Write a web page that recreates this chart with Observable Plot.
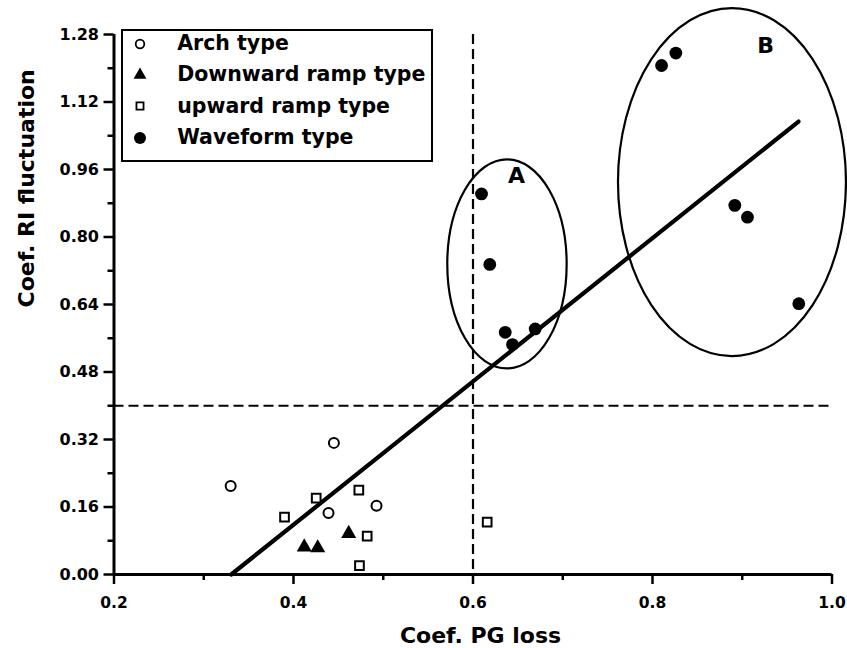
<!DOCTYPE html>
<html><head><meta charset="utf-8">
<script src="https://cdn.jsdelivr.net/npm/d3@7"></script>
<script src="https://cdn.jsdelivr.net/npm/@observablehq/plot@0.6"></script>
<style>
body{margin:0;background:#fff;}
#wrap{position:relative;width:847px;height:648px;font-family:"DejaVu Sans",sans-serif;font-weight:bold;}
#wrap svg g[aria-label="x-axis tick label"]{font-size:15.5px !important;}
#wrap svg g[aria-label="y-axis tick label"]{font-size:16px !important;}
#wrap svg g[aria-label="x-axis tick"], #wrap svg g[aria-label="y-axis tick"]{stroke-width:2.5px !important;}
#legend{position:absolute;left:121px;top:29px;width:312px;height:133px;border:2.5px solid #000;box-sizing:border-box;background:#fff;}
.row{position:absolute;left:0;height:31.3px;width:100%;}
.row svg{position:absolute;left:9.5px;top:8.65px;}
.row span{position:absolute;left:54.2px;top:0;font-size:20.5px;line-height:31.3px;white-space:nowrap;color:#000;}
</style></head><body><div id="wrap"></div>
<script>
// Data
const archX = [0.330, 0.445, 0.439, 0.4925];
const archY = [0.210, 0.312, 0.146, 0.163];
const downX = [0.412, 0.427, 0.4615];
const downY = [0.065, 0.063, 0.097];
const upX = [0.390, 0.4253, 0.4728, 0.4821, 0.4735, 0.6158];
const upY = [0.136, 0.181, 0.200, 0.091, 0.021, 0.124];
const waveX = [0.6095, 0.6187, 0.6359, 0.644, 0.6693, 0.8101, 0.826, 0.8917, 0.9058, 0.963];
const waveY = [0.902, 0.735, 0.574, 0.545, 0.582, 1.2065, 1.236, 0.875, 0.847, 0.642];
const fitX = [0.3306, 0.9627];
const fitY = [0.0, 1.0737];
const thresholdX = [0.6];
const thresholdY = [0.4];
const groupNames = ["A", "B"];
const groupCX = [0.6384, 0.8891];
const groupCY = [0.735, 0.929];
const groupRX = [0.0665, 0.127];
const groupRY = [0.2477, 0.4124];
const groupLabelX = [0.6485, 0.926];
const groupLabelY = [0.945, 1.253];
const xTicks = [0.2, 0.4, 0.6, 0.8, 1.0];
const xMinor = [0.3, 0.5, 0.7, 0.9];
const yTicks = [0.00, 0.16, 0.32, 0.48, 0.64, 0.80, 0.96, 1.12, 1.28];
const yMinor = [0.08, 0.24, 0.40, 0.56, 0.72, 0.88, 1.04, 1.20];
const legendLabels = ["Arch type", "Downward ramp type", "upward ramp type", "Waveform type"];
const xTitle = "Coef. PG loss";
const yTitle = "Coef. RI fluctuation";

const zip = (X, Y) => X.map((x, i) => ({x, y: Y[i]}));
const arch = zip(archX, archY);
const down = zip(downX, downY);
const up = zip(upX, upY);
const wave = zip(waveX, waveY);
const fit = zip(fitX, fitY);
const groups = groupNames.map((n, i) => ({name: n, cx: groupCX[i], cy: groupCY[i], rx: groupRX[i], ry: groupRY[i], lx: groupLabelX[i], ly: groupLabelY[i]}));

function ellipses(data) {
  return (index, scales) => {
    const g = d3.create("svg:g");
    g.selectAll("ellipse").data(data).join("ellipse")
      .attr("cx", d => scales.x(d.cx))
      .attr("cy", d => scales.y(d.cy))
      .attr("rx", d => Math.abs(scales.x(d.cx + d.rx) - scales.x(d.cx)))
      .attr("ry", d => Math.abs(scales.y(d.cy + d.ry) - scales.y(d.cy)))
      .attr("fill", "none").attr("stroke", "black").attr("stroke-width", 2.2);
    return g.node();
  };
}

const plot = Plot.plot({
  width: 847, height: 648,
  marginLeft: 113.5, marginRight: 15.5, marginTop: 34, marginBottom: 74,
  x: {domain: [0.2, 1.0], label: null},
  y: {domain: [0, 1.28], label: null},
  style: {fontFamily: "DejaVu Sans", fontWeight: "bold", color: "black", background: "white", overflow: "visible"},
  marks: [
    ellipses(groups),
    Plot.ruleX(thresholdX, {stroke: "black", strokeWidth: 2.2, strokeDasharray: "10,5"}),
    Plot.ruleY(thresholdY, {stroke: "black", strokeWidth: 2.2, strokeDasharray: "10,5"}),
    Plot.line(fit, {x: "x", y: "y", stroke: "black", strokeWidth: 4.2}),
    Plot.dot(arch, {x: "x", y: "y", r: 5, stroke: "black", strokeWidth: 2, fill: "white"}),
    Plot.dot(down, {x: "x", y: "y", r: 5.6, symbol: "triangle", fill: "black", stroke: "none"}),
    Plot.dot(up, {x: "x", y: "y", r: 4.9, symbol: "square", stroke: "black", strokeWidth: 2, fill: "white"}),
    Plot.dot(wave, {x: "x", y: "y", r: 6.4, fill: "black", stroke: "none"}),
    Plot.text(groups, {x: "lx", y: "ly", text: "name", fontSize: 22, fontWeight: "bold", fill: "black"}),
    Plot.axisX(xTicks, {tickSize: 10, tickPadding: 12, strokeWidth: 2.5, stroke: "black", fontSize: 15.5, tickFormat: d => d.toFixed(1), label: null}),
    Plot.axisX(xMinor, {tickSize: 6, strokeWidth: 2.5, stroke: "black", tickFormat: () => "", label: null}),
    Plot.axisY(yTicks, {tickSize: 10, tickPadding: 5, strokeWidth: 2.5, stroke: "black", fontSize: 16, tickFormat: d => d.toFixed(2), label: null}),
    Plot.axisY(yMinor, {tickSize: 6, strokeWidth: 2.5, stroke: "black", tickFormat: () => "", label: null}),
    Plot.ruleY([0], {stroke: "black", strokeWidth: 3}),
    Plot.ruleX([0.2], {stroke: "black", strokeWidth: 3}),
    Plot.text([xTitle], {frameAnchor: "bottom", lineAnchor: "bottom", dx: 7.5, dy: 68.7, fontSize: 22, fontWeight: "bold", fill: "black"}),
    Plot.text([yTitle], {frameAnchor: "left", lineAnchor: "bottom", rotate: -90, dx: -80.5, dy: 3, fontSize: 22, fontWeight: "bold", fill: "black"})
  ]
});

const wrap = document.getElementById("wrap");
wrap.appendChild(plot);

// Legend (HTML overlay)
const legend = document.createElement("div");
legend.id = "legend";
const symDefs = [
  {type: d3.symbolCircle, r: 4.3, fill: "white", stroke: "black", sw: 1.8},
  {type: d3.symbolTriangle, r: 4.8, fill: "black", stroke: "none", sw: 0},
  {type: d3.symbolSquare, r: 4.0, fill: "white", stroke: "black", sw: 1.8},
  {type: d3.symbolCircle, r: 6, fill: "black", stroke: "none", sw: 0}
];
legendLabels.forEach((lab, i) => {
  const row = document.createElement("div");
  row.className = "row";
  row.style.top = (-2.85 + i * 31.3) + "px";
  const s = symDefs[i];
  const svg = d3.create("svg").attr("width", 14).attr("height", 14).attr("viewBox", "-7 -7 14 14").style("overflow", "visible");
  svg.append("path").attr("d", d3.symbol(s.type, Math.PI * s.r * s.r)()).attr("fill", s.fill).attr("stroke", s.stroke).attr("stroke-width", s.sw);
  row.appendChild(svg.node());
  const span = document.createElement("span");
  span.textContent = lab;
  row.appendChild(span);
  legend.appendChild(row);
});
wrap.appendChild(legend);
</script></body></html>
